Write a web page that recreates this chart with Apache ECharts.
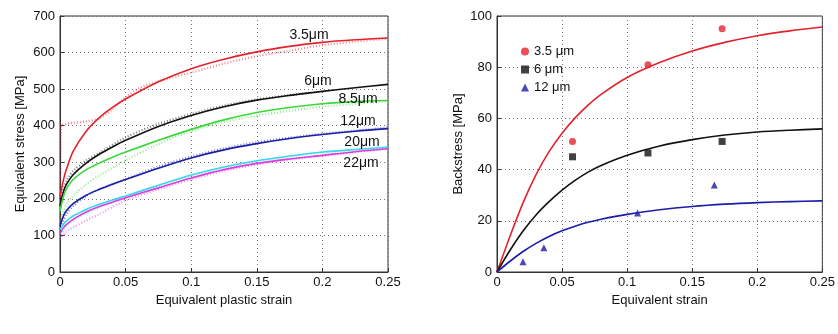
<!DOCTYPE html>
<html><head><meta charset="utf-8">
<script src="https://cdn.jsdelivr.net/npm/echarts@6/dist/echarts.min.js"></script>
<style>html,body{margin:0;padding:0;background:#fff}#c{width:838px;height:334px}</style>
</head><body><div id="c"></div>
<script>
// ---------- Left chart data (Equivalent plastic strain vs Equivalent stress) ----------
var strainModel = [0, 0.0025, 0.005, 0.01, 0.02, 0.03, 0.04, 0.05, 0.075, 0.1, 0.125, 0.15, 0.175, 0.2, 0.225, 0.25];
var model35 = [205, 250, 282, 330, 385, 422, 450, 473, 520, 556, 582, 602, 617, 628, 635, 640];
var model6  = [180, 218, 240, 266, 298, 322, 342, 360, 398, 428, 452, 470, 483, 494, 504, 513];
var model85 = [165, 205, 228, 253, 280, 298, 314, 328, 360, 390, 416, 436, 450, 460, 466, 469];
var model12 = [125, 152, 168, 187, 210, 226, 240, 253, 284, 312, 334, 351, 365, 376, 385, 392];
var model20 = [115, 130, 140, 153, 171, 185, 197, 208, 237, 265, 287, 304, 317, 328, 335, 341];
var model22 = [105, 120, 130, 144, 164, 179, 191, 203, 230, 257, 280, 297, 309, 319, 329, 337];

var strainExp35 = [0, 0.0005, 0.001, 0.005, 0.01, 0.02, 0.03, 0.04, 0.05, 0.06, 0.075, 0.1, 0.125, 0.15, 0.175, 0.2, 0.225, 0.25];
var exp35       = [100, 300, 400, 405, 408, 412, 420, 445, 478, 502, 522, 545, 570, 590, 605, 620, 630, 638];
var strainExp = [0, 0.005, 0.01, 0.02, 0.03, 0.05, 0.075, 0.1, 0.125, 0.15, 0.19, 0.2, 0.25];
var exp6  = [200, 250, 276, 305, 326, 368, 405, 432, 455, 472, 490, null, null];
var exp85 = [140, 185, 208, 240, 264, 305, 350, 385, 410, 428, 448, 452, 467];
var exp12 = [115, 158, 180, 208, 226, 254, 288, 316, 338, 355, 374, 378, 395];
var exp20 = [95, 125, 140, 160, 176, 203, 235, 263, 286, 303, 322, 326, 342];
var exp22 = [90, 110, 122, 141, 158, 196, 226, 253, 276, 294, 314, 318, 338];

var sizeLabels = ['3.5μm', '6μm', '8.5μm', '12μm', '20μm', '22μm'];

// ---------- Right chart data (Equivalent strain vs Backstress) ----------
var strainBack = [0, 0.01, 0.02, 0.03, 0.04, 0.05, 0.06, 0.07, 0.08, 0.1, 0.125, 0.15, 0.175, 0.2, 0.225, 0.25];
var back35 = [0, 14, 27, 38, 47, 54.2, 60.2, 65.2, 69.4, 76, 81.8, 86.3, 89.7, 92.3, 94.2, 95.7];
var back6  = [0, 8.5, 16, 22.3, 27.5, 32, 35.8, 39, 41.6, 45.6, 49.2, 51.7, 53.5, 54.7, 55.4, 55.9];
var back12 = [0, 4.2, 8, 11.2, 13.9, 16.1, 17.9, 19.4, 20.6, 22.5, 24.3, 25.6, 26.5, 27.1, 27.5, 27.8];

var pts35 = [[0.058, 51], [0.116, 81], [0.173, 95]];
var pts6  = [[0.058, 45], [0.116, 46.5], [0.173, 51]];
var pts12 = [[0.02, 4], [0.036, 9.5], [0.108, 23], [0.167, 34]];
var legendNames = ['3.5 μm', '6 μm', '12 μm'];

function zip(xs, ys) { var o = []; for (var i = 0; i < xs.length; i++) { if (ys[i] != null) o.push([xs[i], ys[i]]); } return o; }

var C = { red: '#e3232c', black: '#111111', green: '#3bd83b', blue: '#1c1ca8', cyan: '#38d8ea', mag: '#dd3ddd' };
var font = 'Liberation Sans, Arial, sans-serif';

function xAxis(gi, name) {
  return {
    type: 'value', gridIndex: gi, min: 0, max: 0.25, interval: 0.05,
    name: name, nameLocation: 'middle', nameGap: 21,
    nameTextStyle: { color: '#111', fontSize: 13, fontFamily: font },
    axisLine: { lineStyle: { color: '#333', width: 1 } },
    axisTick: { inside: true, length: 4, lineStyle: { color: '#333' } },
    axisLabel: { color: '#111', fontSize: 13, fontFamily: font, margin: 4,
      formatter: function (v) { return String(+v.toFixed(2)); } },
    splitLine: { show: true, lineStyle: { type: [1, 3], color: '#777', width: 1 } }
  };
}
function yAxis(gi, name, max, interval, gap) {
  return {
    type: 'value', gridIndex: gi, min: 0, max: max, interval: interval,
    name: name, nameLocation: 'middle', nameGap: gap, nameRotate: 90,
    nameTextStyle: { color: '#111', fontSize: 13, fontFamily: font },
    axisLine: { show: true, lineStyle: { color: '#333', width: 1 } },
    axisTick: { show: true, inside: true, length: 4, lineStyle: { color: '#333' } },
    axisLabel: { color: '#111', fontSize: 13, fontFamily: font, margin: 5 },
    splitLine: { show: true, lineStyle: { type: [1, 3], color: '#777', width: 1 } }
  };
}
function line(xi, data, color, w, dotted, name) {
  return {
    type: 'line', xAxisIndex: xi, yAxisIndex: xi, data: data, name: name,
    smooth: 0.3, symbol: 'none', silent: true,
    lineStyle: dotted ? { color: color, width: 2.2, type: [1, 2], opacity: 0.55 } : { color: color, width: w }
  };
}

var series = [
  line(0, zip(strainExp35, exp35), C.red, 1.5, true),
  line(0, zip(strainExp, exp6), C.black, 1.5, true),
  line(0, zip(strainExp, exp85), C.green, 1.5, true),
  line(0, zip(strainExp, exp12), C.blue, 1.5, true),
  line(0, zip(strainExp, exp20), C.cyan, 1.5, true),
  line(0, zip(strainExp, exp22), C.mag, 1.5, true),
  line(0, zip(strainModel, model35), C.red, 1.6),
  line(0, zip(strainModel, model6), C.black, 1.6),
  line(0, zip(strainModel, model85), C.green, 1.6),
  line(0, zip(strainModel, model12), C.blue, 1.6),
  line(0, zip(strainModel, model20), C.cyan, 1.6),
  line(0, zip(strainModel, model22), C.mag, 1.6),
  line(1, zip(strainBack, back35), C.red, 1.6),
  line(1, zip(strainBack, back6), C.black, 1.6),
  line(1, zip(strainBack, back12), C.blue, 1.6),
  { type: 'scatter', name: legendNames[0], xAxisIndex: 1, yAxisIndex: 1, data: pts35, symbol: 'circle', symbolSize: 7, itemStyle: { color: C.red } },
  { type: 'scatter', name: legendNames[1], xAxisIndex: 1, yAxisIndex: 1, data: pts6, symbol: 'rect', symbolSize: 7, itemStyle: { color: C.black } },
  { type: 'scatter', name: legendNames[2], xAxisIndex: 1, yAxisIndex: 1, data: pts12, symbol: 'triangle', symbolSize: 7, itemStyle: { color: C.blue } }
];

var labelPos = [[309, 35], [318, 81], [358, 99], [358, 121], [362, 142], [361, 163]];
var graphics = sizeLabels.map(function (t, i) {
  return { type: 'text', x: labelPos[i][0], y: labelPos[i][1], z: 100,
    style: { text: t, fill: '#111', font: '14px ' + font, textAlign: 'center', textVerticalAlign: 'middle' } };
});

var chart = echarts.init(document.getElementById('c'), null, { renderer: 'canvas' });
chart.setOption({
  backgroundColor: '#fff',
  animation: false,
  grid: [
    { left: 60, right: 450, top: 16, bottom: 62, show: true, borderColor: '#333', borderWidth: 1, backgroundColor: 'transparent' },
    { left: 497, right: 15, top: 16, bottom: 62, show: true, borderColor: '#333', borderWidth: 1, backgroundColor: 'transparent' }
  ],
  xAxis: [xAxis(0, 'Equivalent plastic strain'), xAxis(1, 'Equivalent strain')],
  yAxis: [yAxis(0, 'Equivalent stress [MPa]', 700, 100, 33), yAxis(1, 'Backstress [MPa]', 100, 20, 32)],
  legend: {
    data: legendNames, orient: 'vertical', left: 516, top: 40, itemGap: 5,
    itemWidth: 8, itemHeight: 8, selectedMode: false,
    textStyle: { color: '#111', fontSize: 13, fontFamily: font }
  },
  graphic: graphics,
  series: series
});
</script></body></html>
